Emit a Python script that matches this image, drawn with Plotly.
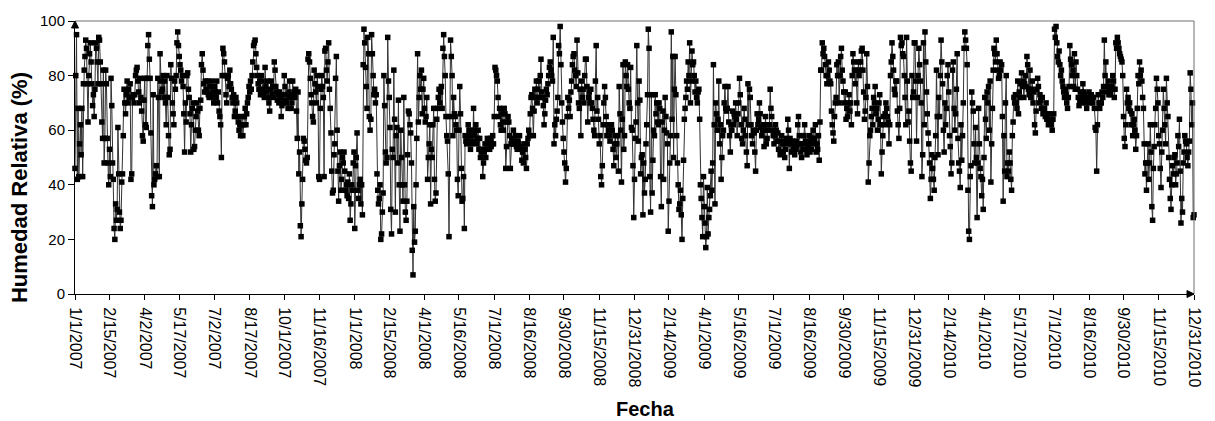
import pandas as pd
import plotly.graph_objects as go

# Daily relative humidity (%), one line per month
rh_2007 = [
    46, 80, 95, 42, 68, 43, 55, 62, 51, 68, 43, 77, 82, 87, 93, 90, 77, 63, 80, 88, 92, 85, 77, 69, 73, 65, 75, 92, 90, 85, 77,
    94, 93, 85, 77, 63, 57, 82, 48, 57, 82, 77, 57, 48, 40, 53, 43, 79, 69, 48, 42, 24, 20, 33, 27, 31, 61, 44, 30,
    24, 27, 41, 44, 58, 75, 70, 66, 73, 78, 70, 75, 72, 77, 42, 44, 72, 73, 70, 73, 80, 82, 83, 78, 74, 70, 79, 72, 67, 58, 56,
    71, 79, 62, 61, 79, 91, 95, 86, 79, 59, 36, 32, 73, 40, 42, 44, 47, 43, 79, 72, 43, 88, 78, 74, 75, 80, 72, 78, 70, 62,
    80, 72, 58, 51, 53, 84, 79, 70, 66, 62, 78, 75, 80, 92, 96, 91, 87, 84, 82, 78, 80, 76, 66, 52, 70, 63, 80, 81, 75, 72, 66,
    52, 62, 68, 70, 53, 54, 60, 65, 70, 67, 60, 58, 68, 71, 84, 88, 82, 77, 74, 78, 75, 74, 78, 73, 72, 76, 73, 78, 72, 74,
    70, 76, 74, 72, 78, 70, 74, 67, 65, 62, 50, 80, 90, 88, 85, 80, 73, 70, 79, 80, 76, 82, 77, 75, 72, 70, 73, 65, 67, 72, 70,
    65, 63, 60, 62, 58, 62, 65, 58, 62, 65, 68, 62, 66, 70, 72, 76, 74, 78, 75, 80, 85, 91, 92, 93, 88, 83, 80, 77, 75, 78, 73,
    80, 78, 75, 73, 72, 83, 76, 74, 78, 72, 70, 67, 75, 78, 73, 76, 72, 85, 82, 76, 74, 71, 73, 70, 74, 72, 65, 69, 73, 70,
    80, 76, 71, 70, 73, 68, 74, 78, 72, 68, 70, 78, 73, 74, 72, 75, 67, 57, 74, 44, 52, 25, 21, 33, 42, 57, 56, 53, 49, 48, 50,
    86, 88, 85, 79, 73, 70, 65, 63, 82, 77, 74, 70, 80, 76, 43, 42, 68, 75, 80, 76, 72, 43, 89, 90, 82, 78, 85, 92, 75, 68,
    59, 45, 37, 38, 51, 55, 79, 87, 60, 45, 34, 47, 52, 38, 42, 50, 48, 52, 45, 38, 40, 36, 41, 35, 44, 27, 33, 40, 38, 48, 52,
]

rh_2008 = [
    24, 47, 50, 59, 38, 35, 40, 42, 33, 40, 29, 84, 97, 92, 83, 76, 68, 94, 88, 65, 60, 64, 95, 88, 80, 73, 75, 70, 73, 44, 38,
    33, 35, 40, 20, 22, 30, 37, 80, 69, 52, 48, 50, 94, 78, 72, 61, 31, 22, 53, 50, 82, 64, 30, 58, 61, 48, 71, 40, 23,
    60, 50, 40, 34, 72, 40, 30, 27, 34, 51, 67, 66, 62, 59, 48, 16, 7, 32, 19, 23, 40, 57, 88, 63, 72, 80, 75, 82, 66, 75, 79,
    68, 63, 65, 72, 42, 50, 55, 62, 33, 53, 50, 62, 68, 42, 34, 37, 64, 68, 72, 75, 70, 74, 76, 68, 90, 95, 87, 80, 65, 58,
    56, 44, 21, 65, 93, 87, 80, 58, 72, 66, 65, 62, 60, 42, 36, 60, 76, 66, 46, 34, 35, 43, 24, 58, 56, 55, 57, 62, 60, 58, 53,
    55, 60, 56, 68, 58, 60, 62, 55, 57, 60, 53, 57, 50, 52, 53, 43, 48, 52, 55, 50, 53, 57, 55, 56, 53, 57, 54, 55, 58, 55,
    65, 83, 82, 80, 78, 72, 65, 68, 62, 60, 66, 63, 60, 68, 66, 46, 54, 63, 65, 63, 58, 46, 55, 57, 55, 60, 56, 55, 58, 54, 53,
    56, 55, 58, 54, 53, 49, 52, 48, 55, 53, 50, 46, 55, 57, 60, 58, 66, 72, 73, 68, 58, 67, 75, 72, 78, 70, 75, 78, 72, 80, 86,
    74, 72, 69, 62, 66, 71, 75, 73, 77, 80, 83, 85, 82, 80, 78, 94, 55, 62, 58, 64, 67, 72, 91, 88, 98, 84, 70, 63, 57, 52,
    48, 41, 46, 65, 72, 68, 71, 65, 74, 78, 84, 87, 88, 82, 80, 76, 93, 81, 70, 68, 75, 58, 78, 72, 75, 70, 80, 86, 86, 76, 63,
    72, 74, 70, 75, 70, 68, 64, 60, 58, 78, 91, 67, 72, 64, 55, 58, 43, 40, 47, 62, 70, 76, 72, 65, 58, 62, 60, 58, 56, 62,
    62, 60, 53, 47, 55, 58, 50, 55, 58, 45, 76, 66, 60, 41, 64, 84, 53, 58, 85, 80, 76, 84, 75, 70, 68, 83, 61, 60, 47, 28, 42,
]

rh_2009 = [
    57, 63, 91, 70, 56, 78, 71, 44, 50, 51, 29, 48, 37, 42, 55, 62, 73, 97, 90, 43, 30, 73, 37, 49, 60, 58, 73, 66, 70, 63, 62,
    70, 68, 43, 32, 63, 67, 42, 60, 72, 65, 59, 55, 23, 34, 48, 58, 96, 64, 87, 50, 75, 87, 73, 58, 48, 40, 31, 33,
    38, 29, 20, 35, 49, 64, 68, 72, 78, 75, 85, 80, 92, 70, 78, 89, 84, 85, 80, 74, 78, 72, 70, 74, 75, 64, 40, 35, 28, 21, 43,
    32, 26, 17, 21, 39, 22, 28, 31, 36, 45, 38, 48, 84, 62, 33, 70, 66, 60, 64, 78, 55, 62, 42, 50, 58, 60, 70, 76, 68, 67,
    68, 76, 63, 58, 52, 62, 60, 67, 62, 66, 65, 70, 64, 58, 66, 70, 79, 73, 62, 57, 55, 60, 68, 64, 58, 52, 47, 77, 62, 75, 72,
    62, 58, 55, 60, 59, 52, 45, 60, 66, 62, 64, 70, 66, 61, 58, 60, 62, 54, 60, 65, 55, 57, 60, 62, 62, 75, 68, 65, 60, 58,
    55, 58, 62, 60, 56, 59, 53, 56, 51, 52, 58, 55, 52, 56, 50, 53, 57, 55, 64, 60, 46, 57, 55, 52, 56, 53, 55, 51, 53, 56, 54,
    62, 65, 58, 55, 52, 50, 55, 53, 58, 62, 56, 53, 51, 55, 54, 58, 52, 56, 53, 57, 60, 55, 57, 62, 52, 55, 53, 58, 49, 63, 82,
    82, 92, 88, 90, 87, 84, 80, 77, 80, 85, 82, 78, 77, 67, 62, 59, 56, 65, 70, 72, 84, 80, 85, 70, 80, 87, 90, 82, 78, 74,
    70, 74, 64, 68, 65, 70, 73, 67, 70, 62, 80, 88, 85, 82, 77, 82, 70, 66, 85, 80, 82, 85, 89, 90, 82, 74, 64, 67, 72, 88, 76,
    41, 48, 58, 60, 65, 68, 62, 72, 70, 76, 66, 68, 60, 64, 70, 73, 62, 44, 52, 58, 65, 62, 66, 70, 68, 65, 63, 55, 62, 80,
    85, 92, 87, 82, 75, 73, 78, 78, 67, 62, 57, 68, 94, 91, 92, 88, 87, 80, 72, 62, 94, 78, 63, 67, 56, 48, 45, 80, 72, 74, 92,
]

rh_2010 = [
    92, 78, 56, 72, 80, 90, 84, 78, 70, 43, 51, 92, 62, 96, 85, 74, 66, 59, 55, 48, 35, 42, 51, 46, 42, 38, 50, 58, 82, 65, 51,
    72, 65, 80, 93, 85, 77, 60, 52, 70, 62, 68, 80, 84, 74, 58, 54, 44, 48, 82, 85, 68, 60, 66, 75, 88, 57, 48, 45,
    39, 62, 49, 58, 70, 90, 96, 93, 90, 84, 38, 23, 20, 43, 47, 74, 70, 67, 55, 48, 61, 50, 28, 48, 68, 55, 46, 43, 36, 42, 31,
    50, 72, 64, 57, 74, 70, 76, 60, 78, 41, 55, 68, 82, 90, 88, 85, 93, 88, 82, 79, 80, 85, 82, 84, 65, 34, 58, 45, 70, 80,
    43, 48, 45, 52, 48, 42, 38, 58, 63, 72, 70, 73, 70, 68, 78, 66, 74, 72, 77, 81, 76, 78, 72, 77, 80, 76, 87, 84, 75, 73, 82,
    72, 75, 78, 70, 74, 62, 59, 67, 75, 79, 76, 70, 73, 71, 68, 72, 66, 67, 68, 65, 70, 64, 66, 62, 66, 63, 64, 62, 60, 64,
    66, 97, 94, 98, 92, 87, 85, 89, 84, 80, 82, 78, 76, 74, 72, 75, 73, 70, 68, 72, 76, 91, 86, 84, 80, 82, 76, 88, 75, 85, 80,
    75, 72, 69, 71, 74, 72, 70, 77, 74, 73, 72, 70, 68, 71, 72, 74, 70, 72, 73, 72, 70, 72, 68, 61, 60, 45, 62, 73, 70, 68, 70,
    70, 74, 72, 76, 93, 80, 85, 74, 76, 78, 73, 75, 73, 75, 76, 80, 78, 72, 75, 92, 90, 94, 92, 90, 88, 87, 86, 85, 80, 65,
    57, 54, 62, 75, 70, 72, 68, 70, 67, 62, 66, 58, 62, 64, 60, 53, 58, 68, 80, 77, 85, 80, 82, 78, 72, 68, 55, 44, 48, 38, 48,
    55, 42, 48, 62, 52, 32, 27, 46, 54, 62, 68, 79, 75, 70, 58, 55, 46, 39, 52, 60, 75, 68, 62, 55, 79, 70, 65, 50, 42, 35,
    31, 40, 47, 44, 50, 51, 40, 44, 48, 58, 54, 64, 45, 26, 35, 30, 48, 52, 58, 56, 55, 50, 47, 52, 56, 81, 75, 62, 70, 28, 29,
]

tick_labels = [
    "1/1/2007", "2/15/2007", "4/2/2007", "5/17/2007", "7/2/2007", "8/17/2007",
    "10/1/2007", "11/16/2007", "1/1/2008", "2/15/2008", "4/1/2008", "5/16/2008",
    "7/1/2008", "8/16/2008", "9/30/2008", "11/15/2008", "12/31/2008", "2/14/2009",
    "4/1/2009", "5/16/2009", "7/1/2009", "8/16/2009", "9/30/2009", "11/15/2009",
    "12/31/2009", "2/14/2010", "4/1/2010", "5/17/2010", "7/1/2010", "8/16/2010",
    "9/30/2010", "11/15/2010", "12/31/2010",
]
y_ticks = [0, 20, 40, 60, 80, 100]

year_lengths = [len(rh_2007), len(rh_2008), len(rh_2009), len(rh_2010)]
assert year_lengths == [365, 366, 365, 365], year_lengths

rh = rh_2007 + rh_2008 + rh_2009 + rh_2010
dates = pd.date_range("2007-01-01", periods=len(rh), freq="D")
tick_dates = pd.to_datetime(tick_labels, format="%m/%d/%Y")

FONT = "Liberation Sans, Arial, sans-serif"

fig = go.Figure()
fig.add_trace(go.Scatter(
    x=dates, y=rh, mode="lines+markers",
    line=dict(color="#333333", width=1),
    marker=dict(symbol="square", size=5.5, color="black"),
    cliponaxis=False, showlegend=False,
))

fig.update_layout(
    width=1215, height=421,
    margin=dict(l=75, r=17, t=16, b=127),
    paper_bgcolor="white", plot_bgcolor="white",
    font=dict(family=FONT, color="black"),
    xaxis=dict(
        type="date", range=[dates[0], dates[-1]],
        tickmode="array", tickvals=tick_dates, ticktext=tick_labels,
        tickangle=90, tickfont=dict(size=16, family=FONT, color="black"),
        ticks="outside", ticklen=5, tickcolor="black", ticklabelstandoff=4,
        showline=True, linecolor="black", linewidth=1,
        showgrid=False, zeroline=False, fixedrange=True,
    ),
    yaxis=dict(
        range=[0, 100], tickmode="array", tickvals=y_ticks,
        tickfont=dict(size=15, family=FONT, color="black"),
        ticks="outside", ticklen=6, tickcolor="black",
        showline=True, linecolor="black", linewidth=1,
        showgrid=False, zeroline=False, fixedrange=True,
    ),
)

# frame on the top and right of the plot area
fig.add_shape(type="line", xref="paper", yref="paper", x0=0, x1=1, y0=1, y1=1,
              line=dict(color="#6e6e6e", width=1))
fig.add_shape(type="line", xref="paper", yref="paper", x0=1, x1=1, y0=0, y1=1,
              line=dict(color="#6e6e6e", width=1))

# arrowheads at the ends of both axes
fig.add_shape(type="path", xref="paper", yref="paper",
              xsizemode="pixel", ysizemode="pixel", xanchor=0, yanchor=1,
              path="M -3.5,-7 L 0,0 L 3.5,-7 Z",
              fillcolor="black", line=dict(color="black", width=1))
fig.add_shape(type="path", xref="paper", yref="paper",
              xsizemode="pixel", ysizemode="pixel", xanchor=1, yanchor=0,
              path="M -7,3.5 L 0,0 L -7,-3.5 Z",
              fillcolor="black", line=dict(color="black", width=1))

fig.add_annotation(
    text="<b>Humedad Relativa (%)</b>", textangle=-90,
    xref="paper", yref="paper", x=0, y=0.388, xanchor="center", yanchor="middle",
    xshift=-56, showarrow=False, font=dict(size=22, family=FONT, color="black"),
)
fig.add_annotation(
    text="<b>Fecha</b>",
    xref="paper", yref="paper", x=0.5102, y=0, xanchor="center", yanchor="middle",
    yshift=-115, showarrow=False, font=dict(size=20, family=FONT, color="black"),
)

fig.write_html("out.html", config={"displayModeBar": False})
